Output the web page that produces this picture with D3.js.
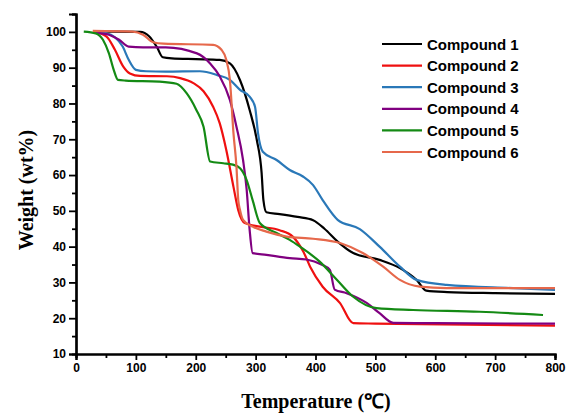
<!DOCTYPE html>
<html><head><meta charset="utf-8">
<script src="https://cdn.jsdelivr.net/npm/d3@7"></script>
<style>
body{margin:0;background:#fff;}
svg{display:block;}
</style></head>
<body>
<svg id="chart" width="569" height="414"></svg>
<script>
const seriesNames = ["Compound 1","Compound 2","Compound 3","Compound 4","Compound 5","Compound 6"];
const seriesColors = ["#000000","#ef1010","#2a78b8","#800080","#148a14","#e6684b"];

const c1T = [30,60,107,122,135,145,160,200,240,257,274,290,302,310,313,318,340,370,396,415,437,463,507,541,569,585,620,700,800];
const c1W = [100,100.1,100,98.8,95.8,92.9,92.6,92.4,92.2,91.2,86.5,78.2,69.8,60.6,53,49.6,49.1,48.3,47.4,45,41.4,38.2,36.3,34,30.7,27.7,27.3,27,26.8];

const c2T = [30,51,65,79,90,107,152,174,196,213,229,240,251,263,271,282,307,340,362,380,391,412,441,463,500,800];
const c2W = [100,98.7,95,90.3,88.4,87.7,87.6,87.1,85.7,83.4,79.1,74.5,67,56.7,50.2,46.6,45.6,44.6,42.8,38.5,34.4,28.8,24.2,18.6,18.5,17.9];

const c3T = [35,50,65,78,88,100,117,150,207,235,257,274,290,299,304,312,335,357,379,396,412,437,474,507,541,569,619,730,800];
const c3W = [100,99.7,98.5,95.9,92.2,89.4,89,88.9,89,88,86.6,83.8,81.9,79.1,71.7,66.5,64.2,61.4,59.6,57.2,53,47.5,44.9,40,34.4,30.7,29.3,28.4,27.9];

const c4T = [33,55,72,88,112,150,202,224,240,257,268,279,285,290,295,318,357,385,410,424,432,452,486,507,530,600,800];
const c4W = [99.8,99.2,97.8,95.9,95.7,95.7,94,91.2,87.6,81,73.5,64.2,56,44.7,38.2,37.7,36.8,36.4,35,33.5,28,27,24.2,21.4,18.7,18.6,18.5];

const c5T = [13,33,45,55,63,70,83,139,168,185,201,213,224,246,262,274,285,295,307,335,357,374,407,436,463,502,563,674,780];
const c5W = [100.1,99.6,97.8,94,89.4,86.6,86.4,86.1,85.5,82.8,78.2,73.5,63.8,63.3,62.9,61.9,58.6,53,46.6,43.8,41.9,40,35.8,30.7,26,22.8,22.3,21.8,20.9];

const c6T = [28,95,112,129,146,229,243,251,257,263,268,271,274,279,295,318,352,396,441,479,513,541,574,619,800];
const c6W = [100.3,100.1,99.2,97.1,96.7,96.4,95,92.2,86.6,71.7,62.3,53,50.2,47.5,45.6,44.2,42.8,42.2,41,38.2,34.4,30.7,28.8,28.4,28.4];

const xTicks = [0,100,200,300,400,500,600,700,800];
const yTicks = [10,20,30,40,50,60,70,80,90,100];
const xLabel = "Temperature (℃)";
const yLabel = "Weight (wt%)";

const temps = [c1T,c2T,c3T,c4T,c5T,c6T];
const weights = [c1W,c2W,c3W,c4W,c5W,c6W];

const svg = d3.select("#chart");
const x = d3.scaleLinear().domain([0,800]).range([76,555]);
const y = d3.scaleLinear().domain([10,105]).range([354,14]);

// minor ticks
const xMinor = d3.range(50,800,100);
const yMinor = d3.range(15,106,10);

const gx = svg.append("g").attr("transform","translate(0,354)");
gx.call(d3.axisBottom(x).tickValues(xTicks).tickSize(6).tickPadding(3).tickFormat(d3.format("d")));
gx.append("g").call(d3.axisBottom(x).tickValues(xMinor).tickSize(4).tickFormat(""));
const gy = svg.append("g").attr("transform","translate(76,0)");
gy.call(d3.axisLeft(y).tickValues(yTicks).tickSize(7).tickPadding(3).tickFormat(d3.format("d")));
gy.append("g").call(d3.axisLeft(y).tickValues(yMinor).tickSize(4).tickFormat(""));

svg.selectAll(".domain").attr("stroke","#000").attr("stroke-width",2.2);
svg.selectAll(".tick line").attr("stroke","#000").attr("stroke-width",1.8);
svg.selectAll(".tick text").attr("font-family","Liberation Sans, Arial, sans-serif")
  .attr("font-weight","bold").attr("font-size","12px").attr("fill","#000");
// tidy minor domains
gx.selectAll("g .domain").filter((d,i)=>i>0);

const line = d3.line().x(d=>x(d[0])).y(d=>y(d[1])).curve(d3.curveMonotoneX);
temps.forEach((t,i)=>{
  const pts = t.map((v,j)=>[v,weights[i][j]]);
  svg.append("path").datum(pts).attr("d",line)
    .attr("fill","none").attr("stroke",seriesColors[i]).attr("stroke-width",2.2)
    .attr("stroke-linejoin","round");
});

// legend
const leg = svg.append("g");
seriesNames.forEach((n,i)=>{
  const yy = 44 + i*21.6;
  leg.append("line").attr("x1",382).attr("x2",422).attr("y1",yy).attr("y2",yy)
    .attr("stroke",seriesColors[i]).attr("stroke-width",2.2);
  leg.append("text").attr("x",427).attr("y",yy+5.5).text(n)
    .attr("font-family","Liberation Sans, Arial, sans-serif").attr("font-weight","bold")
    .attr("font-size","15px").attr("fill","#000");
});

svg.append("text").attr("x",316).attr("y",408).attr("text-anchor","middle")
  .attr("font-family","Liberation Serif, Times New Roman, serif").attr("font-weight","bold")
  .attr("font-size","20px").text(xLabel);
svg.append("text").attr("transform","translate(33,190) rotate(-90)").attr("text-anchor","middle")
  .attr("font-family","Liberation Serif, Times New Roman, serif").attr("font-weight","bold")
  .attr("font-size","20px").text(yLabel);
</script>
</body></html>
